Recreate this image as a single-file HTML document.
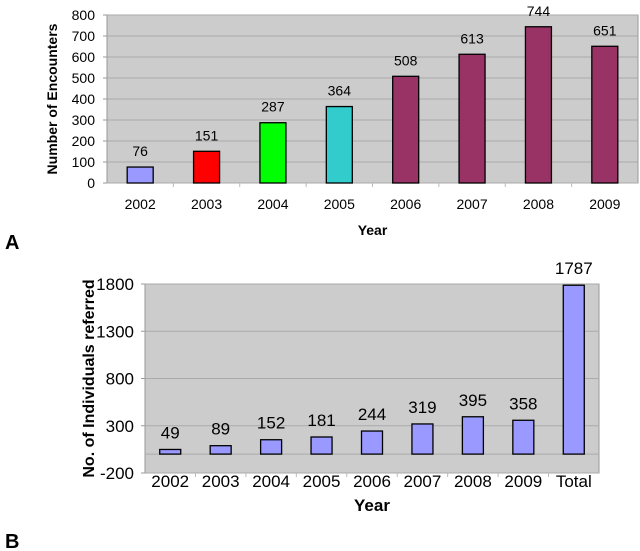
<!DOCTYPE html>
<html><head><meta charset="utf-8"><style>
html,body{margin:0;padding:0;background:#fff;}
svg{display:block;font-family:"Liberation Sans",Arial,sans-serif;}
</style></head><body>
<svg width="640" height="551" viewBox="0 0 640 551">
<g id="chartA"></g>
<g id="chartB"></g>
<text x="5" y="249" font-size="20" font-weight="bold">A</text>
<text x="5" y="548" font-size="20" font-weight="bold">B</text>
</svg>
<script>
const catsA = ["2002","2003","2004","2005","2006","2007","2008","2009"];
const valsA = [76,151,287,364,508,613,744,651];
const colorsA = ["#9999ff","#ff0000","#00ff00","#33cccc","#993366","#993366","#993366","#993366"];
const ticksA = [0,100,200,300,400,500,600,700,800];
const catsB = ["2002","2003","2004","2005","2006","2007","2008","2009","Total"];
const valsB = [49,89,152,181,244,319,395,358,1787];
const ticksB = [-200,300,800,1300,1800];

const NS="http://www.w3.org/2000/svg";
function mk(parent,tag,attrs,text){const e=document.createElementNS(NS,tag);for(const k in attrs)e.setAttribute(k,attrs[k]);if(text!==undefined)e.textContent=text;parent.appendChild(e);return e;}

function drawChart(g,cfg){
  const {left,right,top,bottom,min,max,cats,vals,ticks,colors,fs,barW,tickRight,titleX,title,titleFs,xLabelY,yearY,yearFs,valGap}=cfg;
  const y=v=>bottom-(v-min)/(max-min)*(bottom-top);
  const step=(right-left)/cats.length;
  const x=i=>left+step*(i+0.5);
  const bg=mk(g,'rect',{x:left,y:top,width:right-left,height:bottom-top,fill:'#cccccc',stroke:'#999999','stroke-width':1});
  
  
  ticks.forEach(t=>{
    const gl=mk(g,'line',{x1:left,x2:right,y1:y(t),y2:y(t),stroke:'#aaaaaa','stroke-width':1});
    
    
    const tm=mk(g,'line',{x1:left-4,x2:left,y1:y(t),y2:y(t),stroke:'#999','stroke-width':1});
    
    
    const tl=mk(g,'text',{x:tickRight,y:y(t)+fs*0.36,'text-anchor':'end','font-size':fs,fill:'#000'},String(t));
    
    
  });
  if(min<0){
    const zl=mk(g,'line',{x1:left,x2:right,y1:y(0),y2:y(0),stroke:'#aaaaaa','stroke-width':1});
    
    
  }
  cats.forEach((c,i)=>{
    const base=y(Math.max(0,min));
    const b=mk(g,'rect',{x:x(i)-barW/2,y:y(vals[i]),width:barW,height:base-y(vals[i]),fill:colors?colors[i]:'#9999ff',stroke:'#000','stroke-width':1.3});
    
    
    const v=mk(g,'text',{x:x(i),y:y(vals[i])-valGap,'text-anchor':'middle','font-size':fs,fill:'#000'},String(vals[i]));
    
    
    const xl=mk(g,'text',{x:x(i),y:xLabelY,'text-anchor':'middle','font-size':fs,fill:'#000'},c);
    
    
    if(i>0){
      const st=mk(g,'line',{x1:left+step*i,x2:left+step*i,y1:bottom,y2:bottom+4,stroke:'#bbb','stroke-width':1});
      
      
    }
  });
  const yr=mk(g,'text',{x:(left+right)/2,y:yearY,'text-anchor':'middle','font-size':yearFs,'font-weight':'bold',fill:'#000'},'Year');
  
  
  const cy=(top+bottom)/2;
  const yt=mk(g,'text',{x:titleX,y:cy,'text-anchor':'middle','font-size':titleFs,'font-weight':'bold',fill:'#000',transform:`rotate(-90 ${titleX} ${cy})`},title);
  
  
}

drawChart(document.getElementById('chartA'),{left:107,right:638,top:15,bottom:183,min:0,max:800,cats:catsA,vals:valsA,ticks:ticksA,colors:colorsA,fs:14,barW:26,tickRight:95,titleX:57,title:'Number of Encounters',titleFs:14,xLabelY:209,yearY:235,yearFs:14,valGap:11});
drawChart(document.getElementById('chartB'),{left:145,right:599,top:284,bottom:473,min:-200,max:1800,cats:catsB,vals:valsB,ticks:ticksB,colors:null,fs:17,barW:21,tickRight:134,titleX:94,title:'No. of Individuals referred',titleFs:16,xLabelY:487,yearY:511,yearFs:17,valGap:11});
</script>
</body></html>
